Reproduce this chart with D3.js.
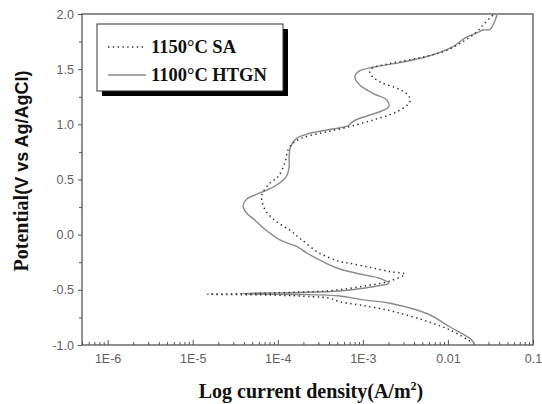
<!DOCTYPE html>
<html><head><meta charset="utf-8">
<script src="https://cdn.jsdelivr.net/npm/d3@7/dist/d3.min.js"></script>
<style>body{margin:0;background:#fff}svg{display:block}</style>
</head><body>
<svg id="c" width="542" height="404"></svg>
<script>
// 1150°C SA (dotted): potential (V) and current density (A/m2), along the measured path
const potSA = [-0.964,-0.864,-0.773,-0.689,-0.638,-0.608,-0.577,-0.562,-0.547,-0.540,-0.533,-0.520,-0.508,-0.472,-0.420,-0.357,-0.336,-0.296,-0.260,-0.243,-0.169,-0.033,0.042,0.124,0.214,0.314,0.360,0.466,0.523,0.650,0.767,0.831,0.867,0.899,0.933,0.973,1.039,1.114,1.205,1.266,1.327,1.386,1.463,1.506,1.551,1.598,1.658,1.749,1.840,1.900,1.991];
const curSA = [0.01815,0.01057,5.08e-3,2.08e-3,9.23e-4,5.36e-4,4.09e-4,2.58e-4,8.05e-5,1.5e-5,6.14e-5,1.82e-4,4.09e-4,9.23e-4,2.08e-3,3.12e-3,2.08e-3,1.21e-3,7.03e-4,5.36e-4,3.12e-4,1.82e-4,1.38e-4,9.46e-5,7.23e-5,6.49e-5,6.49e-5,8.05e-5,1.0e-4,1.21e-4,1.32e-4,1.51e-4,1.82e-4,2.38e-4,3.77e-4,6.49e-4,1.31e-3,2.51e-3,3.57e-3,3.41e-3,2.51e-3,1.58e-3,1.21e-3,1.28e-3,2.08e-3,4.32e-3,8.73e-3,0.015,0.0219,0.0258,0.0338];
// 1100°C HTGN (solid)
const potHT = [-0.990,-0.955,-0.837,-0.719,-0.622,-0.586,-0.556,-0.542,-0.538,-0.533,-0.529,-0.524,-0.511,-0.483,-0.461,-0.441,-0.402,-0.375,-0.357,-0.311,-0.266,-0.166,-0.112,-0.048,0.042,0.133,0.205,0.260,0.323,0.359,0.389,0.450,0.525,0.616,0.707,0.797,0.873,0.919,0.953,0.985,1.024,1.055,1.114,1.162,1.221,1.281,1.356,1.432,1.486,1.517,1.559,1.613,1.704,1.782,1.828,1.855,1.861,1.991];
const curHT = [0.0202,0.0191,0.01057,5.82e-3,2.08e-3,9.23e-4,5.36e-4,1.82e-4,4.69e-5,3.87e-5,6.14e-5,1.82e-4,5.36e-4,1.06e-3,1.58e-3,2.02e-3,1.67e-3,1.21e-3,9.23e-4,5.36e-4,3.87e-4,2.19e-4,1.72e-4,1.06e-4,7.23e-5,5.36e-5,4.21e-5,3.91e-5,4.32e-5,5.36e-5,6.67e-5,9.73e-5,1.26e-4,1.36e-4,1.36e-4,1.41e-4,1.66e-4,2.38e-4,4.09e-4,6.67e-4,7.62e-4,9.23e-4,1.58e-3,2.02e-3,1.91e-3,1.31e-3,9.23e-4,8.05e-4,9.23e-4,1.31e-3,2.72e-3,5.66e-3,0.0115,0.0158,0.0219,0.0258,0.0312,0.0377];

const xMajorVals = [1e-6,1e-5,1e-4,1e-3,1e-2,1e-1];
const xTickLabels = ["1E-6","1E-5","1E-4","1E-3","0.01","0.1"];
const yMajorVals = [-1.0,-0.5,0.0,0.5,1.0,1.5,2.0];
const yTickLabels = ["-1.0","-0.5","0.0","0.5","1.0","1.5","2.0"];
const seriesNames = ["1150°C SA","1100°C HTGN"];

const svg = d3.select("#c");
const L = 82, R = 533, T = 14, B = 345;
const x = d3.scaleLog().domain([5e-7, 0.1]).range([L, R]);
const y = d3.scaleLinear().domain([-1, 2]).range([B, T]);
const axisCol = "#555";

// minor x ticks
const minorX = [];
for (let e = -7; e <= -2; e++) for (let m = 1; m <= 9; m++) {
  const v = m * Math.pow(10, e);
  if (v >= 5e-7 && v <= 0.1 && m !== 1) minorX.push(v);
}
const xMinorAxis = d3.axisBottom(x).tickValues(minorX).tickSize(-3).tickFormat("");
const xMajorAxis = d3.axisBottom(x).tickValues(xMajorVals).tickSize(-5).tickPadding(9)
  .tickFormat((d,i) => xTickLabels[i]);
const gxm = svg.append("g").attr("transform", `translate(0,${B})`).call(xMinorAxis);
const gx = svg.append("g").attr("transform", `translate(0,${B})`).call(xMajorAxis);
[gxm, gx].forEach(g => { g.select(".domain").remove(); g.selectAll("line").attr("stroke", axisCol).attr("stroke-width", 1); });
gx.selectAll("text").attr("font-family", "Liberation Sans, Arial, sans-serif").attr("font-size", 12.5).attr("fill", "#606060");

const minorY = [-0.75,-0.25,0.25,0.75,1.25,1.75];
const yMinorAxis = d3.axisLeft(y).tickValues(minorY).tickSize(3).tickFormat("");
const yMajorAxis = d3.axisLeft(y).tickValues(yMajorVals).tickSize(4).tickPadding(4)
  .tickFormat((d,i) => yTickLabels[i]);
const gym = svg.append("g").attr("transform", `translate(${L},0)`).call(yMinorAxis);
const gy = svg.append("g").attr("transform", `translate(${L},0)`).call(yMajorAxis);
[gym, gy].forEach(g => { g.select(".domain").remove(); g.selectAll("line").attr("stroke", axisCol).attr("stroke-width", 1); });
gy.selectAll("text").attr("font-family", "Liberation Sans, Arial, sans-serif").attr("font-size", 12.5).attr("fill", "#606060");

// frame
svg.append("rect").attr("x", L).attr("y", T).attr("width", R - L).attr("height", B - T)
  .attr("fill", "none").attr("stroke", axisCol).attr("stroke-width", 1.3);

// curves
const line = d3.line().x(d => x(d[0])).y(d => y(d[1])).curve(d3.curveCatmullRom.alpha(0.5));
const dSA = curSA.map((c, i) => [c, potSA[i]]);
const dHT = curHT.map((c, i) => [c, potHT[i]]);
svg.append("path").attr("d", line(dHT)).attr("fill", "none").attr("stroke", "#8a8a8a").attr("stroke-width", 1.4);
svg.append("path").attr("d", line(dSA)).attr("fill", "none").attr("stroke", "#333").attr("stroke-width", 1.5)
  .attr("stroke-dasharray", "1.4,3.4");

// legend
const lg = svg.append("g");
lg.append("rect").attr("x", 102).attr("y", 29).attr("width", 186).attr("height", 67).attr("fill", "#000");
lg.append("rect").attr("x", 97).attr("y", 24).attr("width", 186).attr("height", 67).attr("fill", "#fff")
  .attr("stroke", "#333").attr("stroke-width", 1);
const legY = [47, 75];
lg.append("line").attr("x1", 108).attr("x2", 146).attr("y1", legY[0]).attr("y2", legY[0])
  .attr("stroke", "#333").attr("stroke-width", 1.4).attr("stroke-dasharray", "1.4,3.4");
lg.append("line").attr("x1", 108).attr("x2", 146).attr("y1", legY[1]).attr("y2", legY[1])
  .attr("stroke", "#8a8a8a").attr("stroke-width", 1.4);
seriesNames.forEach((n, i) => {
  lg.append("text").attr("x", 151).attr("y", legY[i] + 6).text(n)
    .attr("font-family", "Liberation Serif, Times New Roman, serif").attr("font-weight", "bold")
    .attr("font-size", 18.5).attr("fill", "#111");
});

// axis titles
const xt = svg.append("text").attr("x", 311).attr("y", 398).attr("text-anchor", "middle")
  .attr("font-family", "Liberation Serif, Times New Roman, serif").attr("font-weight", "bold")
  .attr("font-size", 20).attr("fill", "#111");
xt.append("tspan").text("Log current density");
xt.append("tspan").text("(A/m");
xt.append("tspan").attr("font-size", 12).attr("dy", -8).text("2");
xt.append("tspan").attr("dy", 8).text(")");

const yt = svg.append("text").attr("transform", "translate(28,171) rotate(-90)").attr("text-anchor", "middle")
  .attr("font-weight", "bold").attr("fill", "#111");
yt.append("tspan").attr("font-family", "Liberation Serif, Times New Roman, serif").attr("font-size", 20).text("Potential");
yt.append("tspan").attr("font-family", "Liberation Sans, Arial, sans-serif").attr("font-size", 18).text("(V vs Ag/AgCl)");
</script>
</body></html>
